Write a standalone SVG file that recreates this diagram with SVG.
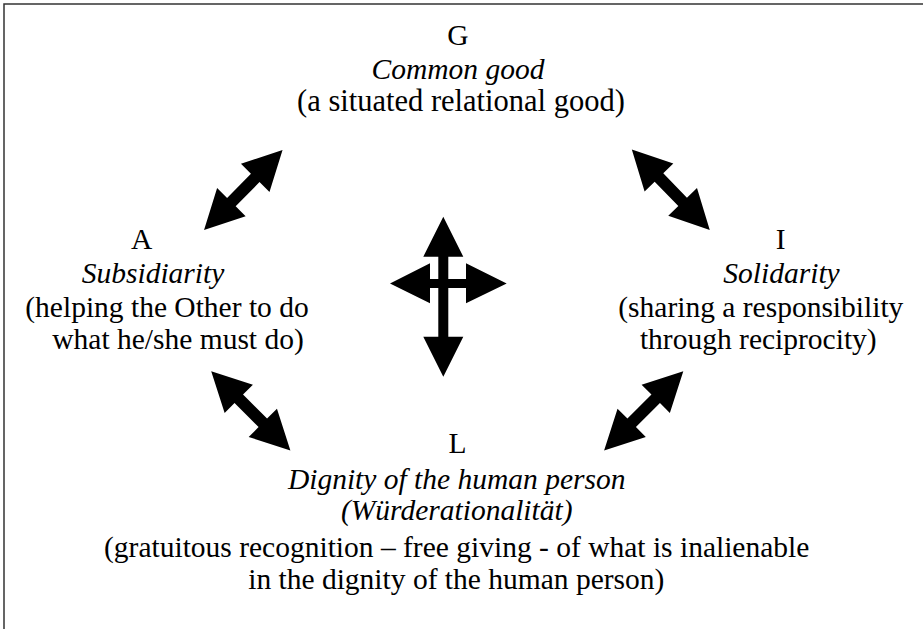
<svg xmlns="http://www.w3.org/2000/svg" xmlns:xlink="http://www.w3.org/1999/xlink" width="923" height="629" viewBox="0 0 923 629">
  <style>
    text { font-family: "Liberation Serif", "Times New Roman", serif; font-size: 29.5px; fill: #000; text-anchor: middle; }
    .it { font-style: italic; }
    .frame { fill: none; stroke: #333; stroke-width: 1.5; }
    .arrow { fill: #000; }
  </style>
  <defs>
    <!-- double-headed arrow, centred on the origin, pointing along x -->
    <path id="dbl" d="M -56,0 L -17,-20 L -17,-6 L 17,-6 L 17,-20 L 56,0 L 17,20 L 17,6 L -17,6 L -17,20 Z"/>
  </defs>

  <rect width="923" height="629" fill="#fff"/>
  <!-- frame: top and left rules -->
  <path class="frame" d="M 923,4 L 4,4 L 4,629"/>

  <g id="node-G">
    <text x="458" y="45">G</text>
    <text class="it" x="458" y="78.5">Common good</text>
    <text x="461" y="111" style="font-size:30.5px">(a situated relational good)</text>
  </g>

  <g id="node-A">
    <text x="141.7" y="249">A</text>
    <text class="it" x="153" y="283">Subsidiarity</text>
    <text x="167" y="316.5">(helping the Other to do</text>
    <text x="178" y="348.5">what he/she must do)</text>
  </g>

  <g id="node-I">
    <text x="780.7" y="248.5">I</text>
    <text class="it" x="781.5" y="283">Solidarity</text>
    <text x="760.8" y="316.5">(sharing a responsibility</text>
    <text x="758.3" y="348.5">through reciprocity)</text>
  </g>

  <g id="node-L">
    <text x="457.5" y="453">L</text>
    <text class="it" x="456.7" y="488.5">Dignity of the human person</text>
    <text class="it" x="456.7" y="520">(Würderationalität)</text>
    <text x="456.7" y="556.5">(gratuitous recognition – free giving - of what is inalienable</text>
    <text x="456.3" y="588.5">in the dignity of the human person)</text>
  </g>

  <g id="connectors" class="arrow">
    <use xlink:href="#dbl" transform="translate(243.3,190) rotate(-45.5)"/>
    <use xlink:href="#dbl" transform="translate(670.8,189.7) rotate(45.9)"/>
    <use xlink:href="#dbl" transform="translate(250.8,410.8) rotate(45)"/>
    <use xlink:href="#dbl" transform="translate(643.7,410.8) rotate(-45)"/>
    <!-- central four-way cross -->
    <g id="cross">
      <path d="M 390,283.5 L 430,263.3 L 430,279 L 466,279 L 466,263.3 L 506.7,283.5 L 466,303.3 L 466,288 L 430,288 L 430,303.3 Z"/>
      <path d="M 443.3,216.7 L 463.3,256.7 L 448.3,256.7 L 448.3,336.7 L 463.3,336.7 L 443.3,376.7 L 423.3,336.7 L 438.3,336.7 L 438.3,256.7 L 423.3,256.7 Z"/>
    </g>
  </g>
</svg>
